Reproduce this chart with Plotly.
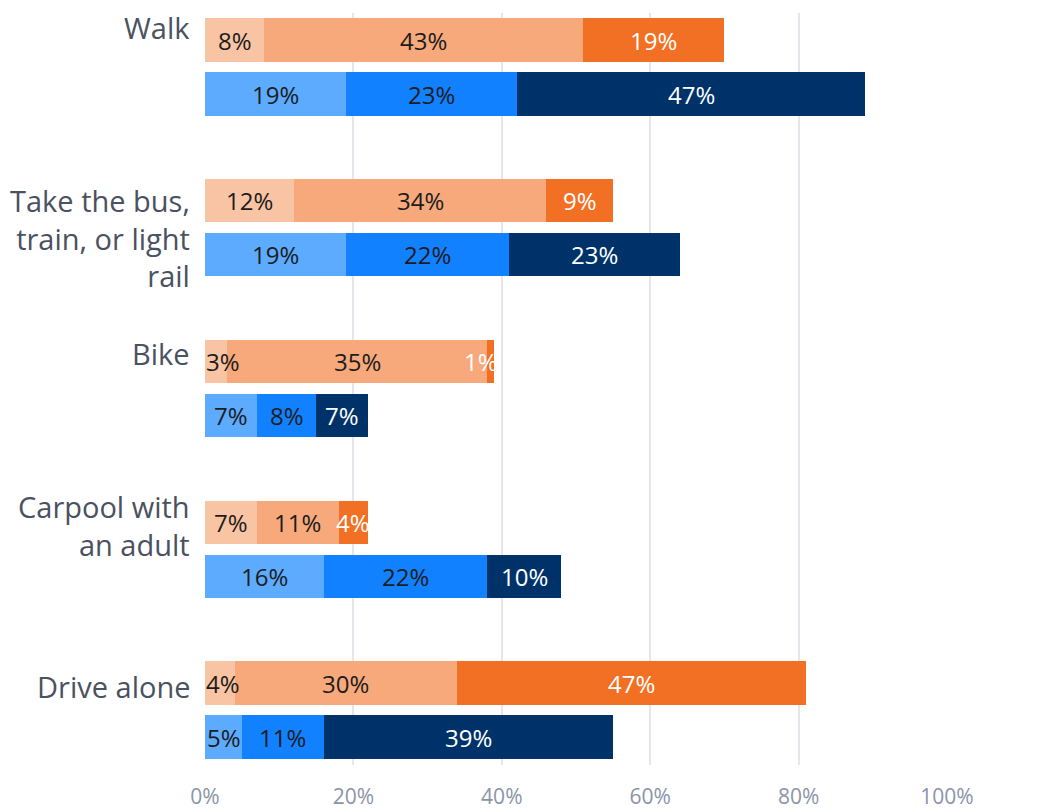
import plotly.graph_objects as go

# Travel modes (top to bottom)
categories = ["Walk", "Take the bus,<br>train, or light<br>rail", "Bike",
              "Carpool with<br>an adult", "Drive alone"]

# Orange group: three stacked segments per mode
orange_1 = [8, 12, 3, 7, 4]
orange_2 = [43, 34, 35, 11, 30]
orange_3 = [19, 9, 1, 4, 47]

# Blue group: three stacked segments per mode
blue_1 = [19, 19, 7, 16, 5]
blue_2 = [23, 22, 8, 22, 11]
blue_3 = [47, 23, 7, 10, 39]

x_ticks = [0, 20, 40, 60, 80, 100]
x_tick_text = ["0%", "20%", "40%", "60%", "80%", "100%"]

# ---- styling ----
FONT = "Open Sans"
ORANGE_COLORS = ["#F9C4A3", "#F7A97B", "#F27024"]
BLUE_COLORS = ["#5CABFF", "#1281FF", "#00326A"]
ORANGE_TEXT = ["#1c1c1c", "#1c1c1c", "#ffffff"]
BLUE_TEXT = ["#1c1c1c", "#1c1c1c", "#ffffff"]
BAR_OFFSET = 0.168
BAR_WIDTH = 0.27
LABEL_SIZE = 24
CAT_SIZE = 29
CAT_YSHIFT = [40, -10, 35, 24, 24]   # pixel nudges for the mode labels

n = len(categories)
orange_pos = [i - BAR_OFFSET for i in range(n)]
blue_pos = [i + BAR_OFFSET for i in range(n)]

fig = go.Figure()
annotations = []

# approx. pixels per percentage point on the x axis
PX_PER_UNIT = (947 - 205) / 100.0


def add_group(series_list, colors, text_colors, positions):
    totals = [0.0] * n
    for series, color, tcolor in zip(series_list, colors, text_colors):
        fig.add_trace(go.Bar(
            x=series, y=positions, orientation="h", width=BAR_WIDTH,
            marker=dict(color=color, line=dict(width=0)),
            hoverinfo="skip", showlegend=False,
        ))
        for i, v in enumerate(series):
            start = totals[i]
            end_total = sum(s[i] for s in series_list)
            label = f"{v}%"
            half_w = (len(label) * 0.56 * LABEL_SIZE) / 2 / PX_PER_UNIT
            cx = start + v / 2
            # keep the label inside the overall bar
            cx = min(cx, end_total - half_w)
            cx = max(cx, half_w + 5 / PX_PER_UNIT)
            annotations.append(dict(
                x=cx, y=positions[i], xref="x", yref="y", text=label,
                showarrow=False, xanchor="center", yanchor="middle",
                font=dict(family=FONT, size=LABEL_SIZE, color=tcolor),
            ))
            totals[i] += v


add_group([orange_1, orange_2, orange_3], ORANGE_COLORS, ORANGE_TEXT, orange_pos)
add_group([blue_1, blue_2, blue_3], BLUE_COLORS, BLUE_TEXT, blue_pos)

# mode labels on the left
for i, cat in enumerate(categories):
    annotations.append(dict(
        x=0, y=i, xref="paper", yref="y", text=cat, showarrow=False,
        xanchor="right", yanchor="middle", align="right", xshift=-13,
        yshift=CAT_YSHIFT[i],
        font=dict(family=FONT, size=CAT_SIZE, color="#4A5160"),
    ))

fig.update_layout(
    barmode="stack",
    width=1050, height=812,
    margin=dict(l=205, r=103, t=13, b=47, autoexpand=False),
    paper_bgcolor="white", plot_bgcolor="white",
    annotations=annotations,
    xaxis=dict(
        range=[0, 100], tickvals=x_ticks, ticktext=x_tick_text,
        showgrid=True, gridcolor="#E4E6EB", gridwidth=2,
        zeroline=False, showline=False, ticks="",
        ticklabelstandoff=17, automargin=False,
        tickfont=dict(family=FONT, size=21, color="#8A94A8"),
        fixedrange=True,
    ),
    yaxis=dict(
        range=[n - 1 + 0.342, -0.336], showticklabels=False, automargin=False,
        showgrid=False, zeroline=False, showline=False, fixedrange=True,
    ),
)

fig.write_html("out.html")
